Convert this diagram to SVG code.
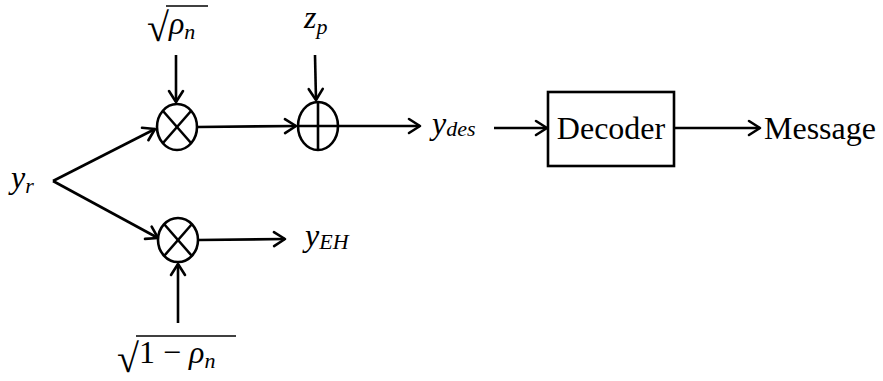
<svg xmlns="http://www.w3.org/2000/svg" width="883" height="381" viewBox="0 0 883 381">
<style>
.ln{stroke:#000;stroke-width:2.6;fill:none}
.nd{stroke:#000;stroke-width:2.6;fill:#fff}
.m{font-style:italic;fill:#000}
.t{fill:#000}
</style>
<defs>
<marker id="ah" markerUnits="userSpaceOnUse" markerWidth="20" markerHeight="20" viewBox="-14 -10 16 20" refX="0" refY="0" orient="auto">
<path d="M-11,-7 L0,0 L-11,7" fill="none" stroke="#000" stroke-width="2.6" stroke-linecap="round" stroke-linejoin="round"/>
</marker>
</defs>
<g id="connectors">
<line class="ln" x1="176" y1="55" x2="176" y2="102" marker-end="url(#ah)"/>
<line class="ln" x1="315" y1="55" x2="316" y2="100" marker-end="url(#ah)"/>
<line class="ln" x1="53" y1="181" x2="155" y2="129" marker-end="url(#ah)"/>
<line class="ln" x1="53" y1="181" x2="158" y2="238" marker-end="url(#ah)"/>
<line class="ln" x1="197" y1="127" x2="296" y2="126" marker-end="url(#ah)"/>
<line class="ln" x1="338" y1="126" x2="420" y2="126" marker-end="url(#ah)"/>
<line class="ln" x1="494" y1="128" x2="547" y2="128" marker-end="url(#ah)"/>
<line class="ln" x1="674" y1="128" x2="760" y2="128" marker-end="url(#ah)"/>
<line class="ln" x1="198" y1="240" x2="285" y2="239" marker-end="url(#ah)"/>
<line class="ln" x1="178" y1="323" x2="178" y2="264" marker-end="url(#ah)"/>
</g>
<g font-family="Liberation Serif, Times New Roman, serif">
<g id="yr"><text class="m" x="11" y="188" font-size="32">y<tspan font-size="22" dy="5">r</tspan></text></g>
<g id="sqrt-rho">
<text class="t" x="147" y="41" font-size="40">√</text>
<line x1="166" y1="6" x2="208" y2="6" stroke="#000" stroke-width="1.6"/>
<text class="m" x="169" y="34" font-size="32">ρ<tspan font-size="22" dy="5">n</tspan></text>
</g>
<g id="zp"><text class="m" x="304" y="28" font-size="32">z<tspan font-size="22" dy="6">p</tspan></text></g>
<g id="mult1">
<ellipse class="nd" cx="177" cy="127" rx="20" ry="23"/>
<line class="ln" x1="163" y1="111" x2="191" y2="143"/>
<line class="ln" x1="191" y1="111" x2="163" y2="143"/>
</g>
<g id="adder">
<ellipse class="nd" cx="318" cy="126" rx="20" ry="24"/>
<line class="ln" x1="298" y1="126" x2="338" y2="126"/>
<line class="ln" x1="318" y1="102" x2="318" y2="150"/>
</g>
<g id="mult2">
<ellipse class="nd" cx="178" cy="240" rx="20" ry="22"/>
<line class="ln" x1="164" y1="224" x2="192" y2="256"/>
<line class="ln" x1="192" y1="224" x2="164" y2="256"/>
</g>
<g id="ydes"><text class="m" x="432" y="134" font-size="32">y<tspan font-size="22" dy="2">des</tspan></text></g>
<g id="yEH"><text class="m" x="305" y="246" font-size="32">y<tspan font-size="22" dy="3">EH</tspan></text></g>
<g id="sqrt-1-rho">
<text class="t" x="117" y="372" font-size="40">√</text>
<line x1="136" y1="336" x2="236" y2="336" stroke="#000" stroke-width="1.6"/>
<text class="t" x="139" y="363" font-size="32">1 − <tspan class="m">ρ</tspan><tspan class="m" font-size="22" dy="5">n</tspan></text>
</g>
<g id="decoder">
<rect class="nd" x="548" y="92" width="126" height="74"/>
<text class="t" x="611" y="139" font-size="32" text-anchor="middle">Decoder</text>
</g>
<g id="message"><text class="t" x="764" y="139" font-size="32">Message</text></g>
</g>
</svg>
